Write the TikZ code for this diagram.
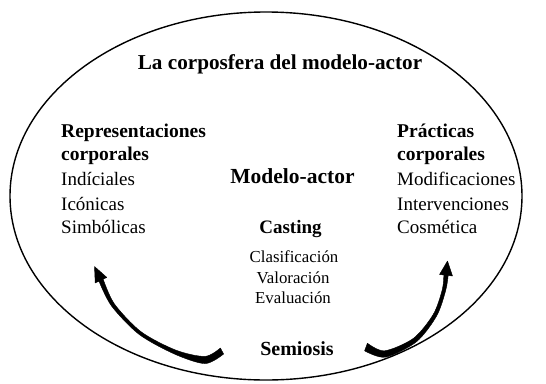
\documentclass[tikz,border=0pt]{standalone}
\usepackage{fontspec}
\setmainfont{Liberation Serif}
\begin{document}
\begin{tikzpicture}[x=1pt,y=-1pt,
  title/.style={font=\fontsize{21.2}{25}\selectfont\bfseries, anchor=base, inner sep=0pt},
  head/.style={font=\fontsize{19.5}{23}\selectfont\bfseries, anchor=base west, inner sep=0pt},
  item/.style={font=\fontsize{19}{23}\selectfont, anchor=base west, inner sep=0pt},
  centerhead/.style={font=\fontsize{21.5}{25}\selectfont\bfseries, anchor=base, inner sep=0pt},
  subhead/.style={font=\fontsize{19}{23}\selectfont\bfseries, anchor=base, inner sep=0pt},
  subitem/.style={font=\fontsize{16.8}{20}\selectfont, anchor=base, inner sep=0pt},
  brush/.style={fill=black, draw=black, line width=0.4pt, line join=round}
]
\useasboundingbox (0,0) rectangle (546,383);
\draw[line width=1.4pt] (266,196) ellipse [x radius=256, y radius=184];

\node[title] (t) at (280,69) {La corposfera del modelo-actor};

\node[head] (l1) at (61,137) {Representaciones};
\node[head] (l2) at (61,160) {corporales};
\node[item] (l3) at (61,185) {Indíciales};
\node[item] (l4) at (61,210) {Icónicas};
\node[item] (l5) at (61,233) {Simbólicas};

\node[head] (r1) at (397,137) {Prácticas};
\node[head] (r2) at (397,160) {corporales};
\node[item] (r3) at (397,185) {Modificaciones};
\node[item] (r4) at (397,210) {Intervenciones};
\node[item] (r5) at (397,233) {Cosmética};

\node[centerhead] (m) at (292.5,183) {Modelo-actor};
\node[subhead] (c) at (290.5,233) {Casting};
\node[subitem] (c1) at (294,262) {Clasificación};
\node[subitem] (c2) at (293,283) {Valoración};
\node[subitem] (c3) at (293,303) {Evaluación};
\node[subhead, font=\fontsize{20}{24}\selectfont\bfseries] (s) at (297,355) {Semiosis};

% left arrow
\filldraw[brush]
  plot[smooth] coordinates {(223.6,354) (205,363.6) (174.2,353.9) (139,334.3) (111.6,306.1) (98.9,281)}
  -- plot[smooth] coordinates {(103.1,279) (114.4,303.9) (141,331.7) (175.8,350.1) (205,356.4) (220.4,348)}
  -- cycle;
\filldraw[brush] (94.5,266.5) -- (95.2,283) -- (106.8,277.4) -- cycle;

% right arrow
\filldraw[brush]
  plot[smooth] coordinates {(364.6,350.8) (385.4,357.2) (416.4,341.8) (436.6,316) (445.7,290.5) (448.2,275.2)}
  -- plot[smooth] coordinates {(443.8,274.8) (442.3,289.5) (433.4,314.1) (413.6,338.2) (384.6,350.8) (367.4,343.2)}
  -- cycle;
\filldraw[brush] (447.5,261) -- (452.5,276) -- (439.5,274.5) -- cycle;
\end{tikzpicture}
\end{document}
